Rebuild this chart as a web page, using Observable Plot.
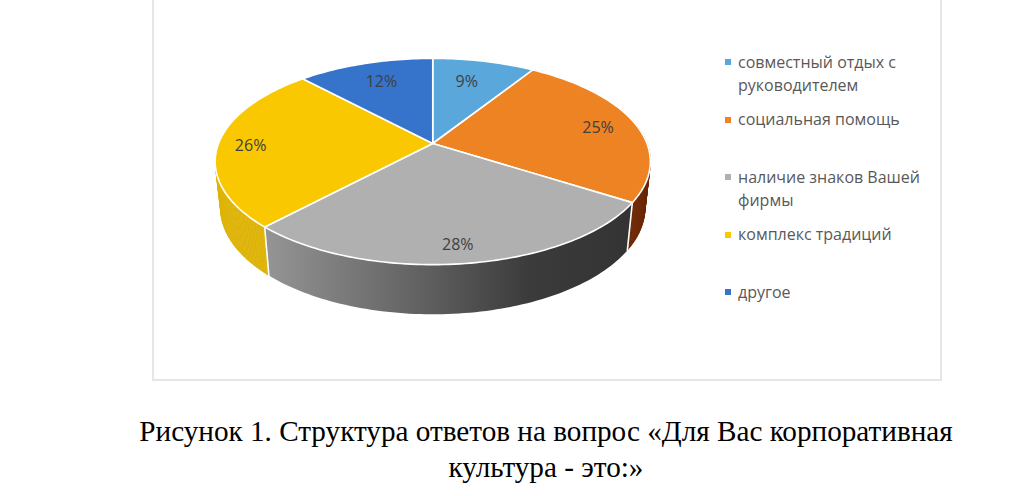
<!DOCTYPE html>
<html lang="ru">
<head>
<meta charset="utf-8">
<script src="https://cdn.jsdelivr.net/npm/d3@7"></script>
<script src="https://cdn.jsdelivr.net/npm/@observablehq/plot@0.6"></script>
<style>
html,body{margin:0;padding:0;background:#fff;width:1024px;height:496px;overflow:hidden}
#frame{position:absolute;left:152px;top:-3px;width:786px;height:380px;border:2px solid #e6e6e6;box-sizing:content-box}
#chart{position:absolute;left:0;top:0}
#legend{position:absolute;left:725px;top:50.5px;display:grid;grid-auto-rows:57.5px;font:16px/23px "Open Sans",sans-serif;color:#595959}
#legend .it{display:flex;align-items:flex-start;width:205px}
#legend .sw{flex:none;width:6px;height:6px;margin:8.5px 7px 0 0}
#caption{position:absolute;left:0;width:1092px;top:413px;text-align:center;font:29.2px/36px "Liberation Serif",serif;color:#000}
</style>
</head>
<body>
<svg width="0" height="0" style="position:absolute"><defs>
<linearGradient id="grayWall">
<stop offset="0" stop-color="#959595"/><stop offset="0.22" stop-color="#7a7a7a"/><stop offset="0.45" stop-color="#5e5e5e"/><stop offset="0.72" stop-color="#3b3b3b"/><stop offset="1" stop-color="#333333"/>
</linearGradient></defs></svg>
<div id="frame"></div>
<div id="chart"></div>
<div id="legend"></div>
<div id="caption">Рисунок 1. Структура ответов на вопрос «Для Вас корпоративная<br>культура - это:»</div>
<script>
const categories = ["совместный отдых с руководителем","социальная помощь","наличие знаков Вашей фирмы","комплекс традиций","другое"];
const shares = [9,25,28,26,12];
const topColors = ["#5aa7dc","#ed8323","#b0b0b0","#fac800","#3674cc"];
const labelRadii = [0.74,0.815,0.855,0.85,0.76];
const labelFractions = [0.43,0.5,0.505,0.5,0.52];
const wallColors = {1:"#6b2604",3:"#deb306"};

// tilted-disc projection, in units of the scale domain
const k = 0.1747;
const total = d3.sum(shares);
const rad = p => p / total * 2 * Math.PI;
function topPt(t, r = 1){
  const u = r*Math.sin(t), v = -r*Math.cos(t), w = 1 - k*v;
  return [u/w, v/w];
}
function botPt(t){
  const [x,y] = topPt(t);
  return [0.975*x, 0.46 + 1.03*y];
}
const cum = d3.cumsum(shares);
const start = i => i ? cum[i-1] : 0;

// top faces
const faces = [];
shares.forEach((s,i) => {
  const a = rad(start(i)), b = rad(cum[i]);
  const pts = [[0,0]];
  const n = Math.max(8, Math.round(s*3));
  for(let j=0;j<=n;j++) pts.push(topPt(a+(b-a)*j/n));
  pts.push([0,0]);
  pts.forEach(p => faces.push({x:p[0],y:p[1],z:i,c:topColors[i]}));
});

// side walls at the silhouette, as narrow strips of one colour
const strips = [];
function addWall(t0,t1,c,id){
  const n = Math.ceil(Math.abs(t1-t0)/0.012);
  for(let j=0;j<n;j++){
    const a=t0+(t1-t0)*j/n, b=t0+(t1-t0)*(j+1)/n;
    const q=[topPt(a),topPt(b),botPt(b),botPt(a),topPt(a)];
    q.forEach(p=>strips.push({x:p[0],y:p[1],z:id+"-"+j,c}));
  }
}
addWall(rad(cum[0])+0.6, rad(cum[1]), wallColors[1], "o");
addWall(rad(cum[2]), rad(cum[3])-1.05, wallColors[3], "y");

// front wall of the grey slice, one polygon with a gradient
const frontWall = [];
{
  const a=rad(cum[1]), b=rad(cum[2]), n=80, up=[], down=[];
  for(let j=0;j<=n;j++){ const t=a+(b-a)*j/n; up.push(topPt(t)); down.push(botPt(t)); }
  [...up,...down.reverse(),up[0]].forEach(p=>frontWall.push({x:p[0],y:p[1]}));
}

// white edges between wall pieces
const edges = [cum[1],cum[2]].flatMap((p,i)=>[topPt(rad(p)),botPt(rad(p))].map(q=>({x:q[0],y:q[1],z:i})));

const labels = shares.map((s,i)=>{
  const [x,y]=topPt(rad(start(i)+s*labelFractions[i]),labelRadii[i]);
  return {x,y,t:s+"%"};
});

const chart = Plot.plot({
  width:1024,height:380,margin:0,
  x:{domain:[-1,1],range:[218,646.5],axis:null},
  y:{domain:[-1,1],range:[43,243],axis:null},
  marks:[
    Plot.line(strips,{x:"x",y:"y",z:"z",fill:"c",stroke:"c",strokeWidth:0.6,curve:"linear"}),
    Plot.line(frontWall,{x:"x",y:"y",fill:"url(#grayWall)",stroke:"none",curve:"linear"}),
    Plot.line(edges,{x:"x",y:"y",z:"z",stroke:"#fff",strokeWidth:1.6}),
    Plot.line(faces,{x:"x",y:"y",z:"z",fill:"c",stroke:"#fff",strokeWidth:1.6,strokeLinejoin:"round",curve:"linear"}),
    Plot.text(labels,{x:"x",y:"y",text:"t",fontSize:16,fontFamily:"Open Sans",fill:"#404040",dy:2})
  ]
});
chart.style.background="transparent";
document.getElementById("chart").append(chart);

const legend=document.getElementById("legend");
categories.forEach((c,i)=>{
  const it=document.createElement("div");it.className="it";
  const sw=document.createElement("div");sw.className="sw";sw.style.background=topColors[i];
  const t=document.createElement("div");t.textContent=c;
  it.append(sw,t);legend.append(it);
});
</script>
</body>
</html>
